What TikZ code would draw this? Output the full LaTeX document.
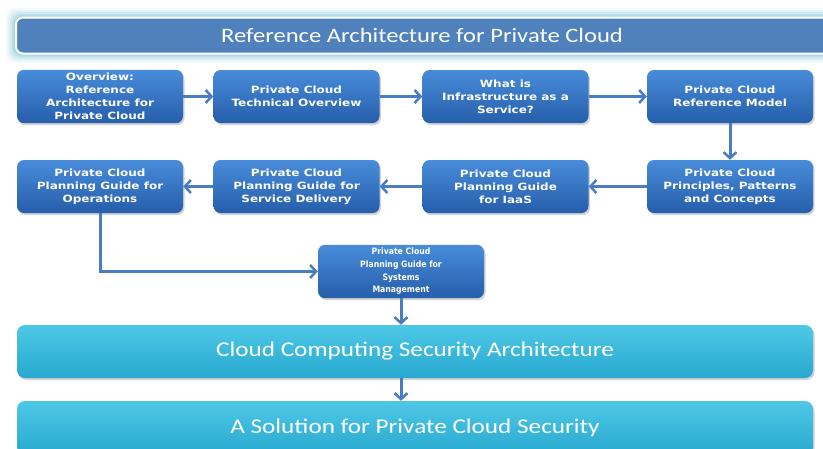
\documentclass[tikz,border=0pt]{standalone}
\usepackage{fontspec}
\setmainfont{Carlito}
\newfontfamily\widefont{Carlito}[FakeStretch=1.2]
\newfontfamily\boxfont{DejaVu Sans}[FakeStretch=1.2]
\newfontfamily\sysfont{DejaVu Sans}[FakeStretch=0.88]
\usetikzlibrary{arrows.meta,shadows}
\definecolor{titleblue}{RGB}{79,129,189}
\definecolor{glowc}{RGB}{110,190,205}
\definecolor{boxtop}{RGB}{72,140,218}
\definecolor{boxbot}{RGB}{38,94,170}
\definecolor{cyantop}{RGB}{78,200,230}
\definecolor{cyanbot}{RGB}{40,168,208}
\definecolor{arrowc}{RGB}{72,125,195}
\tikzset{
  bluebox/.style={rounded corners=7pt, minimum width=166pt, minimum height=53pt,
    top color=boxtop, bottom color=boxbot, draw=none, text=white, align=center,
    font=\boxfont\bfseries\fontsize{10}{13}\selectfont,
    drop shadow={shadow xshift=1.5pt, shadow yshift=-2pt, opacity=0.35}},
  sysbox/.style={bluebox, font=\sysfont\bfseries\fontsize{8.8}{12.7}\selectfont},
  cyanbar/.style={rounded corners=8pt, minimum width=796pt, minimum height=53pt,
    top color=cyantop, bottom color=cyanbot, draw=none, text=white,
    font=\widefont\fontsize{21}{22}\selectfont,
    drop shadow={shadow xshift=1.5pt, shadow yshift=-2pt, opacity=0.35}},
  titlebar/.style={rounded corners=7pt, minimum width=822pt, minimum height=36pt,
    fill=titleblue, draw=white, line width=2pt, text=white,
    font=\widefont\fontsize{20.5}{22}\selectfont},
  conn/.style={draw=arrowc, line width=3pt,
    -{Straight Barb[length=6pt,width=13pt,line width=2.5pt]}}
}
\begin{document}
\begin{tikzpicture}[x=1pt,y=-1pt]
\useasboundingbox (0,0) rectangle (823,448);
% glow around title bar
\foreach \k/\o in {9/0.08,7/0.12,5/0.16,3/0.22,1.5/0.3}{
  \fill[glowc, opacity=\o, rounded corners=9pt] (15-\k,17-\k) rectangle (840+\k,54+\k);
}
\node[titlebar] (title) at (427,35.5) {\hspace*{-10pt}Reference Architecture for Private Cloud};

\node[bluebox] (b1) at (100,96.5) {Overview:\\Reference\\Architecture for\\Private Cloud};
\node[bluebox] (b2) at (296.5,96.5) {Private Cloud\\Technical Overview};
\node[bluebox] (b3) at (505.5,96.5) {What is\\Infrastructure as a\\Service?};
\node[bluebox] (b4) at (730,96.5) {Private Cloud\\Reference Model};

\node[bluebox] (b5) at (730,186.5) {Private Cloud\\Principles, Patterns\\and Concepts};
\node[bluebox] (b6) at (505.5,186.5) {Private Cloud\\Planning Guide\\for IaaS};
\node[bluebox] (b7) at (296.5,186.5) {Private Cloud\\Planning Guide for\\Service Delivery};
\node[bluebox] (b8) at (100,186.5) {Private Cloud\\Planning Guide for\\Operations};

\node[sysbox] (sys) at (401,271.5) {Private Cloud\\Planning Guide for\\Systems\\Management};

\node[cyanbar] (sec) at (415,351.5) {Cloud Computing Security Architecture};
\node[cyanbar, minimum height=54pt] (sol) at (415,428) {A Solution for\ Private Cloud Security};

\draw[conn] (b1) -- (b2);
\draw[conn] (b2) -- (b3);
\draw[conn] (b3) -- (b4);
\draw[conn] (b4) -- (b5);
\draw[conn] (b5) -- (b6);
\draw[conn] (b6) -- (b7);
\draw[conn] (b7) -- (b8);
\draw[conn] (b8.south) |- (sys.west);
\draw[conn] (sys.south) -- (sys.south |- sec.north);
\draw[conn] (sec.south -| sys) -- (sol.north -| sys);
\end{tikzpicture}
\end{document}
